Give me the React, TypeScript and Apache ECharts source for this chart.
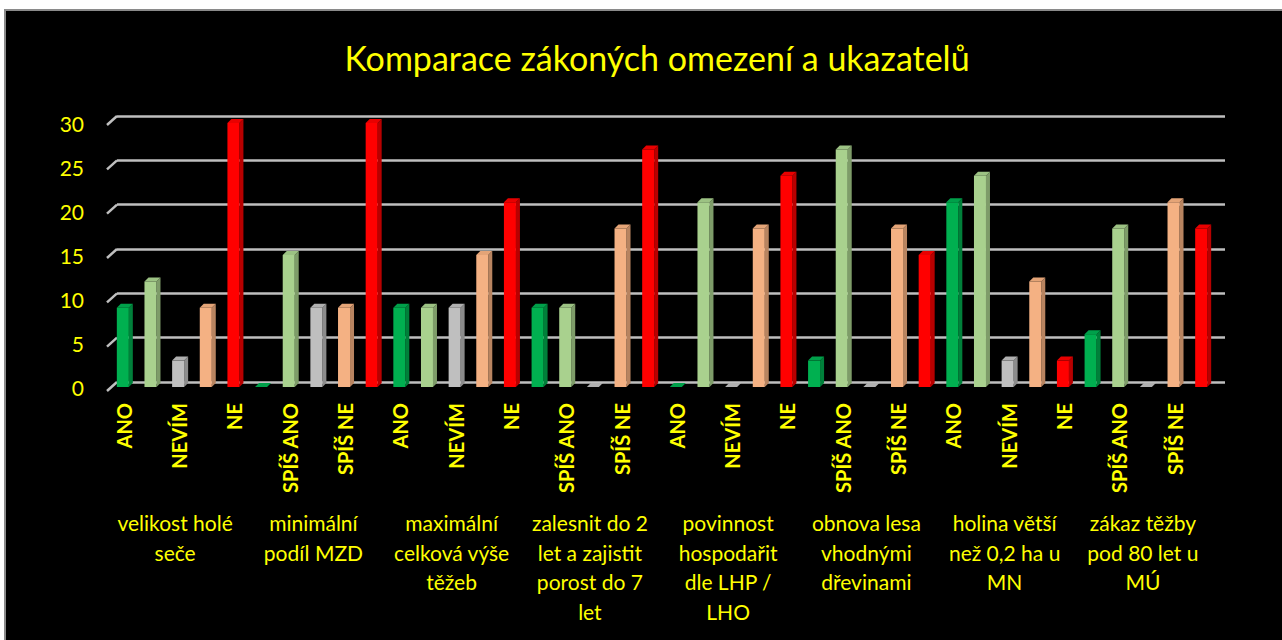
import React, { useEffect, useRef } from "react";
import * as echarts from "echarts";

const groupLabels = [
  "velikost holé\nseče",
  "minimální\npodíl MZD",
  "maximální\ncelková výše\ntěžeb",
  "zalesnit do 2\nlet a zajistit\nporost do 7\nlet",
  "povinnost\nhospodařit\ndle LHP /\nLHO",
  "obnova lesa\nvhodnými\ndřevinami",
  "holina větší\nnež 0,2 ha u\nMN",
  "zákaz těžby\npod 80 let u\nMÚ",
];
const answers = ["ANO", "SPÍŠ ANO", "NEVÍM", "SPÍŠ NE", "NE"];
const ano = [9, 0, 9, 9, 0, 3, 21, 6];
const spisAno = [12, 15, 9, 9, 21, 27, 24, 18];
const nevim = [3, 9, 9, 0, 0, 0, 3, 0];
const spisNe = [9, 9, 15, 18, 18, 18, 12, 21];
const ne = [30, 30, 21, 27, 24, 15, 3, 18];
const yTicks = [0, 5, 10, 15, 20, 25, 30];

const answerValues = [ano, spisAno, nevim, spisNe, ne];
const frontColors = ["#00B050", "#A9D18E", "#BFBFBF", "#F4B183", "#FF0000"];
const sideColors = ["#00803A", "#7E9C69", "#8C8C8C", "#B88460", "#B80000"];
const topColors = ["#00A04A", "#9CC283", "#B0B0B0", "#E4A477", "#E80000"];

const categories: string[] = [];
const barData: number[][] = [];
groupLabels.forEach((_, g) => {
  answers.forEach((a, k) => {
    const idx = categories.length;
    categories.push(a);
    barData.push([idx, answerValues[k][g], k]);
  });
});

const FONT = "Lato";
const YELLOW = "#FFFF00";

export default function App() {
  const ref = useRef<HTMLDivElement>(null);
  useEffect(() => {
    if (!ref.current) return;
    const chart = echarts.init(ref.current, null, { renderer: "svg" });
    const option: any = {
      animation: false,
      backgroundColor: "transparent",
      textStyle: { fontFamily: FONT },
      title: {
        text: "Komparace zákoných omezení a ukazatelů",
        left: 652,
        textAlign: "center",
        top: 35,
        textStyle: { color: YELLOW, fontSize: 34, fontWeight: "normal", fontFamily: FONT },
      },
      grid: [
        { left: 110, right: 66, top: 123, bottom: 253 },
        { left: 117, right: 57, top: 116, bottom: 258 },
      ],
      xAxis: [
        {
          type: "category",
          gridIndex: 0,
          data: categories,
          position: "bottom",
          axisLine: { show: false },
          axisTick: { show: false },
          axisLabel: {
            interval: 1,
            rotate: 90,
            margin: 16,
            color: YELLOW,
            fontSize: 20,
            fontWeight: "bold",
            fontFamily: FONT,
          },
        },
        {
          type: "category",
          gridIndex: 0,
          data: groupLabels,
          position: "bottom",
          axisLine: { show: false },
          axisTick: { show: false },
          axisLabel: {
            interval: 0,
            margin: 121,
            color: YELLOW,
            fontSize: 21,
            lineHeight: 29.5,
            fontFamily: FONT,
            align: "center",
            padding: [0, 8, 0, 0],
          },
        },
        {
          type: "value",
          gridIndex: 1,
          show: false,
        },
      ],
      yAxis: [
        {
          type: "value",
          gridIndex: 0,
          min: 0,
          max: 30,
          interval: 5,
          axisLine: { show: false },
          axisTick: { show: false },
          splitLine: { show: false },
          axisLabel: { color: YELLOW, fontSize: 21, margin: 26, fontFamily: FONT },
        },
        {
          type: "value",
          gridIndex: 1,
          min: 0,
          max: 30,
          interval: 5,
          axisLine: { show: false },
          axisTick: { show: false },
          axisLabel: { show: false },
          splitLine: { show: true, lineStyle: { color: "#BFBFBF", width: 2.5 } },
        },
      ],
      series: [
        {
          type: "custom",
          xAxisIndex: 0,
          yAxisIndex: 0,
          z: 5,
          data: barData,
          renderItem: (params: any, api: any) => {
            const i = api.value(0);
            const v = api.value(1);
            const k = api.value(2);
            const top = api.coord([i, v]);
            const base = api.coord([i, 0]);
            const w = 12;
            const d = 4;
            const x0 = top[0] - w / 2 - 1;
            const x1 = x0 + w;
            const yT = top[1];
            const yB = base[1];
            return {
              type: "group",
              children: [
                {
                  type: "polygon",
                  shape: { points: [[x1, yT], [x1 + d, yT - d], [x1 + d, yB - d], [x1, yB]] },
                  style: { fill: sideColors[k] },
                },
                {
                  type: "polygon",
                  shape: { points: [[x0, yT], [x0 + d, yT - d], [x1 + d, yT - d], [x1, yT]] },
                  style: { fill: topColors[k] },
                },
                {
                  type: "rect",
                  shape: { x: x0, y: yT, width: w, height: Math.max(0, yB - yT) },
                  style: { fill: frontColors[k] },
                },
              ],
            };
          },
        },
      ],
    };
    chart.setOption(option);
    const gridLeft = 117;
    const slants = yTicks.map((t) => {
      const y = chart.convertToPixel({ yAxisIndex: 1 } as any, t) as number;
      return {
        type: "line",
        shape: { x1: gridLeft - 10, y1: y + 9, x2: gridLeft, y2: y },
        style: { stroke: "#BFBFBF", lineWidth: 2.5 },
        z: 1,
      };
    });
    chart.setOption({ graphic: slants });
    return () => chart.dispose();
  }, []);
  return (
    <div style={{ position: "fixed", left: 0, top: 0, width: 1282, height: 640, background: "#fff", overflow: "hidden" }}>
      <div
        style={{
          position: "absolute",
          left: 4,
          top: 9,
          right: 0,
          bottom: 0,
          background: "#000",
          borderTop: "2px solid #8a8a8a",
          borderLeft: "2px solid #8a8a8a",
        }}
      />
      <div ref={ref} style={{ position: "absolute", left: 0, top: 0, width: 1282, height: 640 }} />
    </div>
  );
}
